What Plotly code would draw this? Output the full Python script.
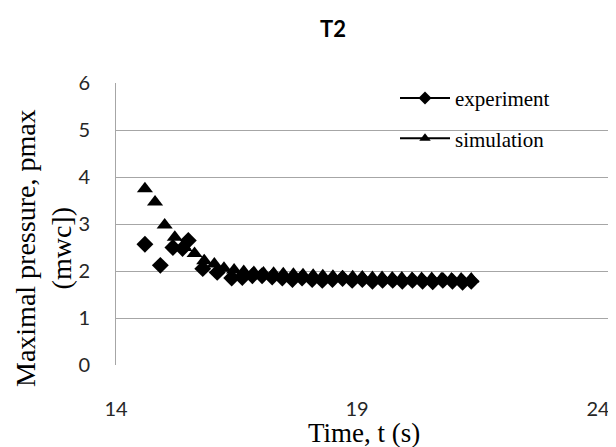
import plotly.graph_objects as go

# ---- data ----
sim_t = [14.60, 14.81, 15.01, 15.22, 15.42, 15.63, 15.83, 16.04, 16.24, 16.45,
         16.65, 16.86, 17.06, 17.27, 17.47, 17.68, 17.88, 18.09, 18.29, 18.50,
         18.70, 18.91, 19.11, 19.32, 19.52, 19.73, 19.93, 20.14, 20.34, 20.55,
         20.75, 20.96, 21.16, 21.37]
sim_p = [3.75, 3.47, 2.98, 2.72, 2.50, 2.37, 2.22, 2.15, 2.06, 2.02,
         1.99, 1.97, 1.96, 1.95, 1.94, 1.93, 1.92, 1.91, 1.90, 1.89,
         1.88, 1.88, 1.87, 1.86, 1.86, 1.85, 1.85, 1.84, 1.84, 1.84,
         1.83, 1.83, 1.83, 1.83]

exp_t = [14.60, 14.92, 15.18, 15.38, 15.50, 15.80, 16.10, 16.40, 16.62, 16.83,
         17.03, 17.24, 17.45, 17.66, 17.86, 18.07, 18.28, 18.49, 18.70, 18.90,
         19.11, 19.32, 19.53, 19.74, 19.94, 20.15, 20.36, 20.57, 20.78, 20.98,
         21.19, 21.37]
exp_p = [2.57, 2.12, 2.50, 2.48, 2.65, 2.05, 1.97, 1.85, 1.86, 1.90,
         1.90, 1.87, 1.85, 1.82, 1.85, 1.82, 1.80, 1.82, 1.84, 1.80,
         1.82, 1.78, 1.80, 1.80, 1.78, 1.80, 1.78, 1.77, 1.80, 1.78,
         1.76, 1.78]

x_ticks = [14, 19, 24]
y_ticks = [0, 1, 2, 3, 4, 5, 6]

title_text = "T2"
x_title = "Time, t (s)"
y_title = "Maximal pressure, pmax<br>(mwc])"

fig = go.Figure()

# data traces
fig.add_trace(go.Scatter(x=exp_t, y=exp_p, mode="markers", name="experiment",
                         marker=dict(symbol="diamond", size=13, color="black"),
                         showlegend=False))
fig.add_trace(go.Scatter(x=sim_t, y=sim_p, mode="markers", name="simulation",
                         marker=dict(symbol="triangle-up", size=14, color="black"),
                         showlegend=False))
# legend entries (line + marker style as in the reference legend)
fig.add_trace(go.Scatter(x=[None], y=[None], mode="lines+markers", name="experiment",
                         line=dict(color="black", width=2),
                         marker=dict(symbol="diamond", size=10, color="black"),
                         legendgroup="a"))
fig.add_trace(go.Scatter(x=[None], y=[None], mode="lines+markers", name="simulation",
                         line=dict(color="black", width=2),
                         marker=dict(symbol="triangle-up", size=10, color="black"),
                         legendgroup="b"))

serif = "Liberation Serif, Times New Roman, serif"
sans = "Lato, Carlito, Calibri, sans-serif"

W, H = 608, 439  # page body has an 8px margin
fig.update_layout(
    width=W, height=H,
    margin=dict(l=108, r=4, t=75, b=82),
    paper_bgcolor="white", plot_bgcolor="white",
    title=dict(text="<b>" + title_text + "</b>", xref="container", x=325 / W,
               xanchor="center", yref="container", y=1 - 21 / H, yanchor="middle",
               font=dict(family=sans, size=22, color="black")),
    xaxis=dict(range=[14, 24.29], tickvals=x_ticks, showgrid=False, zeroline=False,
               showline=False, ticks="", ticklabelstandoff=30,
               tickfont=dict(family=sans, size=20, color="#262626")),
    yaxis=dict(range=[0, 6], tickvals=y_ticks, showgrid=True, gridcolor="#a6a6a6",
               gridwidth=1, zeroline=False, showline=True, linecolor="#a6a6a6",
               linewidth=1, ticks="", ticklabelstandoff=21,
               tickfont=dict(family=sans, size=20, color="#262626")),
    legend=dict(x=0.5625, y=1.018, xanchor="left", yanchor="top",
                bgcolor="rgba(0,0,0,0)", tracegroupgap=10, itemwidth=50,
                font=dict(family=serif, size=21, color="black")),
    annotations=[
        dict(text=x_title, xref="paper", yref="paper", x=0.5, y=0, xanchor="center",
             yanchor="middle", yshift=-68, showarrow=False,
             font=dict(family=serif, size=27, color="black")),
        dict(text=y_title, xref="paper", yref="paper", x=0, y=0.5, xanchor="center",
             yanchor="middle", xshift=-73, yshift=-24, textangle=-90, showarrow=False,
             font=dict(family=serif, size=28, color="black")),
    ],
)

fig.write_html("out.html")
